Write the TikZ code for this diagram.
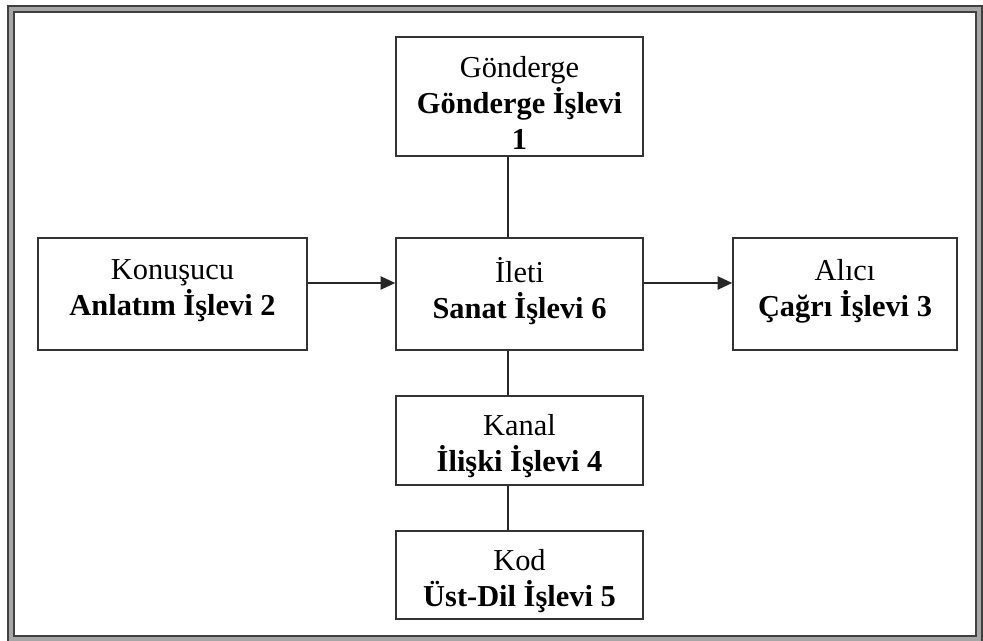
\documentclass[tikz,border=0pt]{standalone}
\usepackage{fontspec}
\setmainfont{Liberation Serif}
\usetikzlibrary{arrows.meta, positioning}

\newcommand{\ust}[1]{\rule{0pt}{#1}} % extra room above the first line

\begin{document}
\begin{tikzpicture}[x=0.75pt, y=-0.75pt,
	kutu/.style 2 args={draw=black!80, line width=1.2pt, align=center, inner sep=0pt,
		minimum width=#1*0.75pt, minimum height=#2*0.75pt,
		font=\fontsize{22.8}{27}\selectfont},
	orta/.style={text depth=9pt},
	ok/.style={draw=black!85, line width=1.2pt, -{Triangle[length=11pt, width=10pt]}},
	cizgi/.style={draw=black!85, line width=1.2pt}]

\def \kx{-8.6pt} % vertical lines sit left of the box centre
\def \ky{8.25pt} % arrows sit above the box centre

\useasboundingbox (0,0) rectangle (983,641);
\draw[black!75, line width=1.5pt, double=black!35, double distance=2.3pt] (11,9) rectangle (979,639); % frame

\node[kutu={247}{119}] (gonderge) at (519.5, 96.5) {\ust{26pt}Gönderge\\\textbf{Gönderge İşlevi}\\\textbf{1}};
\node[kutu={269}{112}, orta] (konusucu) at (172.5, 294) {Konuşucu\\\textbf{Anlatım İşlevi 2}};
\node[kutu={247}{112}, orta] (ileti) at (519.5, 294) {İleti\\\textbf{Sanat İşlevi 6}};
\node[kutu={224}{112}, orta] (alici) at (845, 294) {Alıcı\\\textbf{Çağrı İşlevi 3}};
\node[kutu={247}{89}] (kanal) at (519.5, 440.5) {\ust{24pt}Kanal\\\textbf{İlişki İşlevi 4}};
\node[kutu={247}{88}] (kod) at (519.5, 575) {\ust{25pt}Kod\\\textbf{Üst-Dil İşlevi 5}};

\draw[ok] ([yshift=\ky]konusucu.east) -- ([yshift=\ky]ileti.west);
\draw[ok] ([yshift=\ky]ileti.east) -- ([yshift=\ky]alici.west);

\draw[cizgi] ([xshift=\kx]gonderge.south) -- ([xshift=\kx]ileti.north);
\draw[cizgi] ([xshift=\kx]ileti.south) -- ([xshift=\kx]kanal.north);
\draw[cizgi] ([xshift=\kx]kanal.south) -- ([xshift=\kx]kod.north);

\end{tikzpicture}
\end{document}
